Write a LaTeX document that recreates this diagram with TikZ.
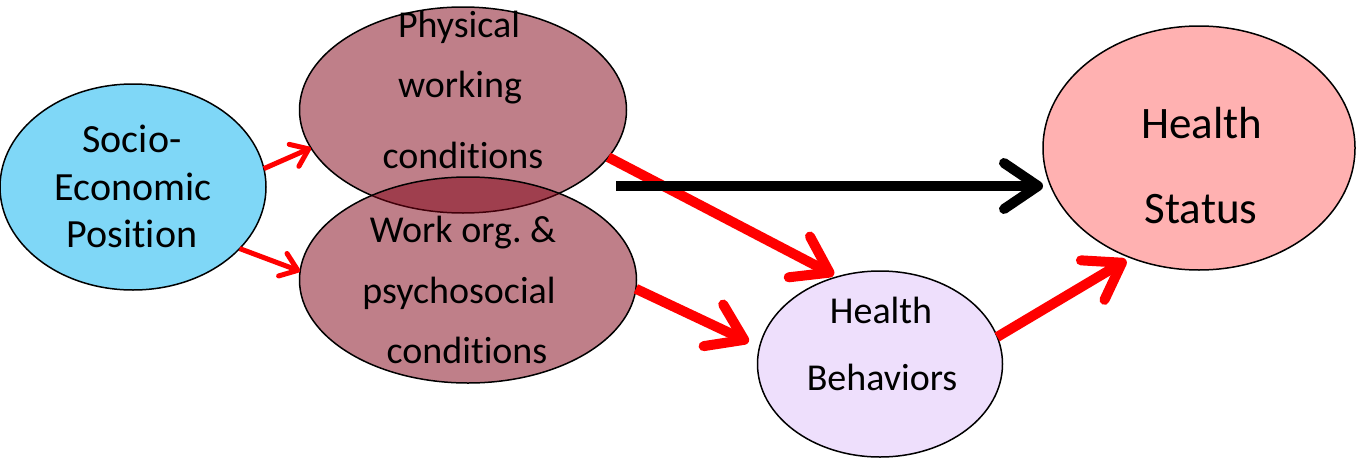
\documentclass[tikz,border=0pt]{standalone}
\usepackage{fontspec}
\setmainfont{Carlito}[Ligatures=NoCommon]
\usetikzlibrary{arrows.meta,shapes.geometric}
\definecolor{sepblue}{RGB}{127,215,247}
\definecolor{workred}{RGB}{128,0,20}
\definecolor{statuspink}{RGB}{255,177,177}
\definecolor{behavlilac}{RGB}{238,223,252}
\frenchspacing
\begin{document}
\begin{tikzpicture}[x=1pt,y=-1pt,
  bubble/.style={ellipse,draw=black,line width=1.5pt,inner sep=0pt,outer sep=0pt},
  worktone/.style={bubble,fill=workred,fill opacity=0.5},
  linetext/.style={anchor=base,inner sep=0pt,font=\fontsize{38}{38}\selectfont},
  septext/.style={anchor=base,inner sep=0pt,font=\fontsize{40}{40}\selectfont},
  bigtext/.style={anchor=base,inner sep=0pt,font=\fontsize{45}{45}\selectfont},
  thinred/.style={draw=red,line width=5pt,-{Straight Barb[length=16pt,width=24pt,round]}},
  thickred/.style={draw=red,line width=10pt,-{Straight Barb[length=34pt,width=46pt,round]}},
  thickblack/.style={draw=black,line width=10pt,-{Straight Barb[length=34pt,width=46pt,round]}},
]
\useasboundingbox (0,0) rectangle (1357,458);

% ellipses
\node[bubble,fill=sepblue,minimum width=266pt,minimum height=206pt] (sep) at (133,187) {};
\node[worktone,minimum width=327pt,minimum height=206pt] (phys) at (463,110) {};
\node[worktone,minimum width=337pt,minimum height=206pt] (work) at (468,280) {};
\node[bubble,fill=statuspink,minimum width=312pt,minimum height=244pt] (hs) at (1199,148) {};
\node[bubble,fill=behavlilac,minimum width=245pt,minimum height=186pt] (hb) at (880,364) {};

% labels, one line each
\node[septext] (sep1) at (132,152) {Socio-};
\node[septext] (sep2) at (133,200) {Economic};
\node[septext] (sep3) at (132,247) {Position};

\node[linetext] (phys1) at (459,37) {Physical};
\node[linetext] (phys2) at (460,97) {working};
\node[linetext] (phys3) at (463,168) {conditions};

\node[linetext] (work1) at (463,242) {Work org. \&};
\node[linetext] (work2) at (459,303) {psychosocial};
\node[linetext] (work3) at (467,363) {conditions};

\node[bigtext] (hs1) at (1202,138) {Health};
\node[bigtext] (hs2) at (1201,223) {Status};

\node[linetext] (hb1) at (881,323) {Health};
\node[linetext] (hb2) at (882,390) {Behaviors};

% connectors
\coordinate (direct) at (616,186);
\draw[thinred] (sep.8) -- (phys.194.5);
\draw[thinred] (sep.-30) -- (work.177);
\draw[thickred,shorten >=4pt] (phys.-18) -- (hb.116);
\draw[thickred,shorten >=12pt] (work.-3) -- (hb.172);
\draw[thickred,shorten >=5pt] (hb.13) -- (hs.238);
\draw[thickblack] (direct) -- (direct -| hs.west);
\end{tikzpicture}
\end{document}
